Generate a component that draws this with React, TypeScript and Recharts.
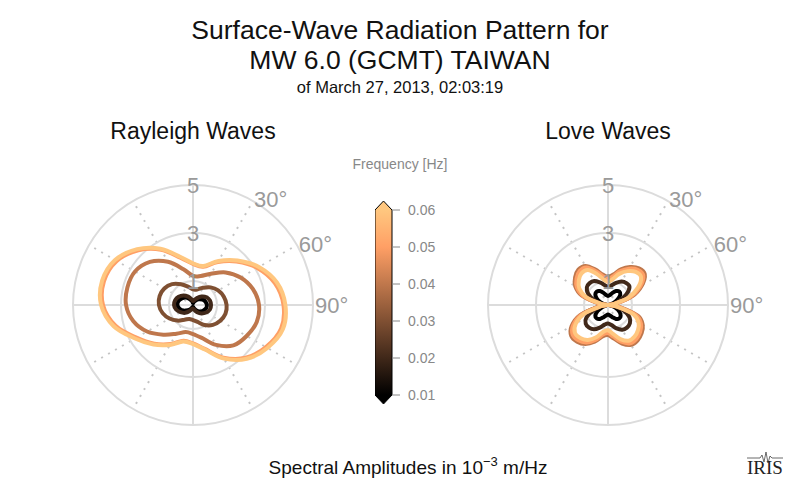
import React from 'react';
import {
  RadarChart, Radar, PolarGrid, PolarAngleAxis, PolarRadiusAxis,
  ComposedChart, XAxis, YAxis, ReferenceArea,
} from 'recharts';

// frequencies shown in the colour bar
const freqTicks = [0.01, 0.02, 0.03, 0.04, 0.05, 0.06];
const freqKeys = ['f01', 'f02', 'f03', 'f04', 'f05', 'f06'];
// matplotlib "copper" sampled at the six frequencies
const freqColors = ['#000000', '#402819', '#7f5032', '#bf774c', '#ff9f65', '#ffc77f'];

const radiusTicks = [1, 3, 5];
const angleTicks = [30, 60, 90];

// Rayleigh amplitudes (1e-3 m/Hz), azimuth every 15 deg
const rayleighAngles = [0, 15, 30, 45, 60, 75, 90, 105, 120, 135, 150, 165, 180, 195, 210, 225, 240, 255, 270, 285, 300, 315, 330, 345];
const rayleighF01 = [0.08, 0.13, 0.21, 0.33, 0.46, 0.54, 0.58, 0.56, 0.48, 0.38, 0.25, 0.13, 0.08, 0.10, 0.19, 0.31, 0.46, 0.58, 0.65, 0.63, 0.54, 0.44, 0.29, 0.17];
const rayleighF02 = [0.17, 0.21, 0.33, 0.50, 0.65, 0.73, 0.75, 0.73, 0.63, 0.50, 0.35, 0.21, 0.15, 0.17, 0.29, 0.46, 0.60, 0.73, 0.79, 0.77, 0.69, 0.56, 0.40, 0.25];
const rayleighF03 = [0.65, 0.67, 0.83, 1.04, 1.21, 1.33, 1.40, 1.40, 1.31, 1.17, 0.96, 0.73, 0.63, 0.60, 0.71, 0.92, 1.13, 1.31, 1.42, 1.44, 1.38, 1.23, 1.00, 0.79];
const rayleighF04 = [1.21, 1.25, 1.50, 1.92, 2.29, 2.58, 2.75, 2.75, 2.58, 2.38, 1.92, 1.42, 1.21, 1.17, 1.38, 1.75, 2.21, 2.58, 2.79, 2.83, 2.79, 2.54, 2.08, 1.54];
const rayleighF05 = [1.71, 1.65, 2.07, 2.56, 3.09, 3.53, 3.77, 3.80, 3.51, 3.11, 2.53, 1.89, 1.60, 1.54, 1.88, 2.28, 2.72, 3.34, 3.75, 3.84, 3.67, 3.22, 2.66, 2.04];
const rayleighF06 = [1.74, 1.68, 2.12, 2.62, 3.17, 3.62, 3.85, 3.88, 3.58, 3.17, 2.58, 1.92, 1.63, 1.57, 1.92, 2.33, 2.79, 3.42, 3.83, 3.92, 3.75, 3.29, 2.71, 2.08];

// Love amplitudes, azimuth every 10 deg
const loveAngles = [0, 10, 20, 30, 40, 50, 60, 70, 80, 90, 100, 110, 120, 130, 140, 150, 160, 170, 180, 190, 200, 210, 220, 230, 240, 250, 260, 270, 280, 290, 300, 310, 320, 330, 340, 350];
const loveF01 = [0.38, 0.42, 0.54, 0.67, 0.73, 0.67, 0.46, 0.25, 0.08, 0.04, 0.13, 0.33, 0.54, 0.69, 0.73, 0.67, 0.54, 0.44, 0.40, 0.44, 0.54, 0.67, 0.73, 0.69, 0.50, 0.25, 0.08, 0.04, 0.13, 0.33, 0.54, 0.69, 0.73, 0.67, 0.54, 0.42];
const loveF02 = [0.75, 0.83, 0.98, 1.13, 1.19, 1.17, 0.88, 0.50, 0.17, 0.04, 0.25, 0.71, 1.04, 1.19, 1.23, 1.19, 1.04, 0.85, 0.77, 0.83, 1.00, 1.17, 1.23, 1.21, 1.04, 0.63, 0.21, 0.04, 0.21, 0.63, 0.96, 1.15, 1.19, 1.15, 1.00, 0.85];
const loveF03 = [1.07, 1.19, 1.48, 1.73, 1.90, 1.90, 1.53, 0.98, 0.28, 0.04, 0.42, 1.23, 1.57, 1.73, 1.82, 1.82, 1.61, 1.32, 1.15, 1.23, 1.53, 1.78, 1.90, 1.90, 1.65, 1.15, 0.36, 0.04, 0.36, 1.07, 1.48, 1.69, 1.82, 1.78, 1.48, 1.19];
const loveF04 = [1.17, 1.29, 1.58, 1.83, 2.00, 2.00, 1.63, 1.08, 0.33, 0.04, 0.50, 1.33, 1.67, 1.83, 1.92, 1.92, 1.71, 1.42, 1.25, 1.33, 1.63, 1.88, 2.00, 2.00, 1.75, 1.25, 0.42, 0.04, 0.42, 1.17, 1.58, 1.79, 1.92, 1.88, 1.58, 1.29];
const loveF05 = [1.09, 1.21, 1.50, 1.75, 1.92, 1.92, 1.55, 1.00, 0.28, 0.04, 0.44, 1.25, 1.59, 1.75, 1.84, 1.84, 1.63, 1.34, 1.17, 1.25, 1.55, 1.80, 1.92, 1.92, 1.67, 1.17, 0.36, 0.04, 0.36, 1.09, 1.50, 1.71, 1.84, 1.80, 1.50, 1.21];
const loveF06 = [0.97, 1.09, 1.38, 1.63, 1.80, 1.80, 1.43, 0.90, 0.24, 0.04, 0.38, 1.13, 1.47, 1.63, 1.72, 1.72, 1.51, 1.22, 1.05, 1.13, 1.43, 1.68, 1.80, 1.80, 1.55, 1.05, 0.30, 0.04, 0.30, 0.97, 1.38, 1.59, 1.72, 1.68, 1.38, 1.09];

const buildRows = (angles: number[], series: number[][]) =>
  angles.map((angle, i) => {
    const row: any = { angle };
    freqKeys.forEach((k, j) => { row[k] = series[j][i]; });
    return row;
  });

const rayleighData = buildRows(rayleighAngles, [rayleighF01, rayleighF02, rayleighF03, rayleighF04, rayleighF05, rayleighF06]);
const loveData = buildRows(loveAngles, [loveF01, loveF02, loveF03, loveF04, loveF05, loveF06]);

const FONT = '"Liberation Sans", Arial, Helvetica, sans-serif';
const GRID = '#dcdcdc';
const LABEL = '#9a9a9a';

// closed Catmull-Rom curve through the radar points
const SmoothLoop = (props: any) => {
  const pts = props.points || [];
  const n = pts.length;
  if (!n) return null;
  let d = `M${pts[0].x},${pts[0].y}`;
  for (let i = 0; i < n; i++) {
    const p0 = pts[(i - 1 + n) % n];
    const p1 = pts[i];
    const p2 = pts[(i + 1) % n];
    const p3 = pts[(i + 2) % n];
    const c1x = p1.x + (p2.x - p0.x) / 6;
    const c1y = p1.y + (p2.y - p0.y) / 6;
    const c2x = p2.x - (p3.x - p1.x) / 6;
    const c2y = p2.y - (p3.y - p1.y) / 6;
    d += ` C${c1x},${c1y} ${c2x},${c2y} ${p2.x},${p2.y}`;
  }
  return <path d={d + 'Z'} fill="none" stroke={props.stroke} strokeWidth={props.strokeWidth} strokeLinejoin="round" />;
};

const RadiusTick = ({ x, y, payload }: any) => (
  <text x={x} y={y} textAnchor="middle" dominantBaseline="central" fill={LABEL} fontSize={22}>
    {payload.value}
  </text>
);

const AngleTick = ({ x, y, payload }: any) => (
  <text x={x} y={y} textAnchor="start" dominantBaseline="central" fill={LABEL} fontSize={22}>
    {payload.value}°
  </text>
);

const dottedSpokes = [30, 60, 120, 150, 210, 240, 300, 330];
const solidSpokes = [0, 90, 180, 270];

function Pattern({ data, left }: { data: any[]; left: number }) {
  return (
    <div style={{ position: 'absolute', left, top: 155 }}>
      <RadarChart width={340} height={300} cx={140} cy={150} outerRadius={120}
        startAngle={90} endAngle={-270} data={data}
        margin={{ top: 0, right: 0, bottom: 0, left: 0 }}>
        <PolarGrid gridType="circle" radialLines polarAngles={dottedSpokes} polarRadius={[0]}
          stroke="#c4c4c4" strokeWidth={2} strokeDasharray="2 6" />
        <PolarGrid gridType="circle" radialLines polarAngles={solidSpokes}
          stroke={GRID} strokeWidth={2} />
        <PolarAngleAxis dataKey="angle" type="number" domain={[0, 360]} ticks={angleTicks}
          axisLine={false} tickLine={false} tickSize={2} tick={<AngleTick />} />
        <PolarRadiusAxis type="number" domain={[0, 5]} ticks={radiusTicks} angle={90}
          axisLine={false} tick={<RadiusTick />} />
        {freqKeys.map((k, i) => (
          <Radar key={k} dataKey={k} stroke={freqColors[i]} strokeWidth={4}
            fill="none" dot={false} isAnimationActive={false} shape={SmoothLoop} />
        ))}
      </RadarChart>
    </div>
  );
}

const ColorBarShape = (props: any) => {
  const { x, y, width, height } = props;
  const tip = 9;
  const d = `M${x},${y} L${x + width / 2},${y - tip} L${x + width},${y} L${x + width},${y + height} L${x + width / 2},${y + height + tip} L${x},${y + height} Z`;
  return (
    <g>
      <defs>
        <linearGradient id="copperGrad" gradientUnits="userSpaceOnUse" x1={0} y1={y + height} x2={0} y2={y}>
          <stop offset="0" stopColor="#000000" />
          <stop offset="0.8" stopColor="#ff9f65" />
          <stop offset="1" stopColor="#ffc77f" />
        </linearGradient>
      </defs>
      <path d={d} fill="url(#copperGrad)" stroke="#000" strokeWidth={1} />
    </g>
  );
};

function ColorBar() {
  const rows = freqTicks.map((f) => ({ x: 0.5, f }));
  return (
    <div style={{ position: 'absolute', left: 375, top: 200 }}>
      <ComposedChart width={72} height={205} data={rows} margin={{ top: 10, right: 0, bottom: 10, left: 0 }}>
        <XAxis type="number" dataKey="x" domain={[0, 1]} hide />
        <YAxis type="number" dataKey="f" orientation="right" domain={[0.01, 0.06]} ticks={freqTicks}
          width={55} axisLine={false} tickSize={8} tickMargin={8}
          tickLine={{ stroke: '#888' }}
          tick={{ fill: '#888', fontSize: 14, fontFamily: FONT }}
          tickFormatter={(v: number) => v.toFixed(2)} />
        <ReferenceArea x1={0} x2={1} y1={0.01} y2={0.06} shape={ColorBarShape} ifOverflow="visible" />
      </ComposedChart>
    </div>
  );
}

export default function App() {
  return (
    <div style={{ position: 'absolute', left: 0, top: 0, width: 800, height: 496, background: '#fff', fontFamily: FONT, overflow: 'hidden' }}>
      <svg width={800} height={496} style={{ position: 'absolute', left: 0, top: 0 }}>
        <text x={400} y={39} textAnchor="middle" fontSize={26.5} fill="#111">Surface-Wave Radiation Pattern for</text>
        <text x={400} y={69} textAnchor="middle" fontSize={26.5} fill="#111">MW 6.0 (GCMT) TAIWAN</text>
        <text x={400} y={93} textAnchor="middle" fontSize={16.5} fill="#111">of March 27, 2013, 02:03:19</text>
        <text x={193} y={139} textAnchor="middle" fontSize={23} fill="#111">Rayleigh Waves</text>
        <text x={608} y={139} textAnchor="middle" fontSize={23} fill="#111">Love Waves</text>
        <text x={400} y={169} textAnchor="middle" fontSize={14} fill="#888">Frequency [Hz]</text>
        <text x={408} y={474} textAnchor="middle" fontSize={19} fill="#111">
          Spectral Amplitudes in 10<tspan dy={-8} fontSize={13}>−3</tspan><tspan dy={8}> m/Hz</tspan>
        </text>
        <path d="M747,458 L760,458 L762,455 L764,462 L766,452 L768,463 L770,456 L772,458 L783,458"
          fill="none" stroke="#444" strokeWidth={0.8} />
        <text x={765} y={474} textAnchor="middle" fontSize={19} fill="#222" fontFamily='"Liberation Serif", "Times New Roman", serif'>IRIS</text>
      </svg>
      <Pattern data={rayleighData} left={53} />
      <Pattern data={loveData} left={468} />
      <ColorBar />
    </div>
  );
}
